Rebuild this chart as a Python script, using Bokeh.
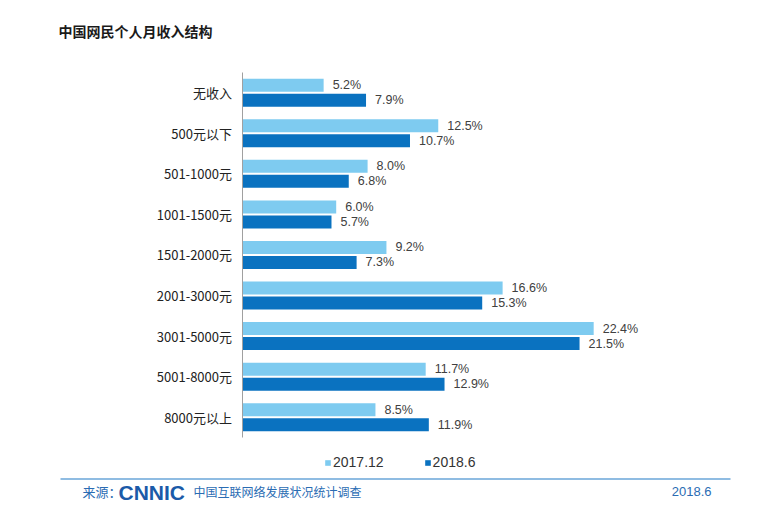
from bokeh.plotting import figure
from bokeh.models import Range1d, FixedTicker, Legend, LegendItem, Label, ColumnDataSource
from bokeh.embed import file_html
from bokeh.resources import INLINE
from bokeh.core.properties import value

# ---- data ----
categories = ["无收入", "500元以下", "501-1000元", "1001-1500元", "1501-2000元",
              "2001-3000元", "3001-5000元", "5001-8000元", "8000元以上"]
values_2017_12 = [5.2, 12.5, 8.0, 6.0, 9.2, 16.6, 22.4, 11.7, 8.5]
values_2018_6 = [7.9, 10.7, 6.8, 5.7, 7.3, 15.3, 21.5, 12.9, 11.9]
series_names = ["2017.12", "2018.6"]
title_text = "中国网民个人月收入结构"

# ---- styles ----
LIGHT = "#7ecbf0"
DARK = "#0a72c0"
CJK = "Noto Sans CJK SC"
LAT = "Liberation Sans"
FOOT = "#2a6cb3"

W, H = 748, 506
PX = 15.7          # px per percent
n = len(categories)
PU = 40.56         # px per category
AX_X = 241.5       # x of axis
CAT_BOT = 437      # y of bottom of category region


def dx(px):
    return (px - AX_X) / PX


def dy(py):
    return (CAT_BOT - py) / PU


ypos = [n - i - 0.5 for i in range(n)]
off = 0.185
bar_h = 13 / PU

src_a = ColumnDataSource(dict(y=[v + off for v in ypos], x=values_2017_12,
                              lab=[f"{v:.1f}%" for v in values_2017_12]))
src_b = ColumnDataSource(dict(y=[v - off for v in ypos], x=values_2018_6,
                              lab=[f"{v:.1f}%" for v in values_2018_6]))

p = figure(width=W, height=H, output_backend="svg", toolbar_location=None,
           x_range=Range1d(dx(0), dx(W)), y_range=Range1d(dy(H), dy(0)),
           min_border=0)
p.outline_line_color = None
p.grid.visible = False
p.xaxis.visible = False

ra = p.hbar(y="y", right="x", left=0, height=bar_h, source=src_a,
            fill_color=LIGHT, line_color=None)
rb = p.hbar(y="y", right="x", left=0, height=bar_h, source=src_b,
            fill_color=DARK, line_color=None)

for s in (src_a, src_b):
    p.text(x="x", y="y", text="lab", source=s, x_offset=9,
           text_align="left", text_baseline="middle",
           text_font=value(LAT), text_font_size="12.5px", text_color="#404040")

yax = p.yaxis[0]
yax.fixed_location = 0
yax.ticker = FixedTicker(ticks=ypos)
yax.bounds = (0, n)
yax.major_label_overrides = {y: c for y, c in zip(ypos, categories)}
yax.major_tick_line_color = None
yax.minor_tick_line_color = None
yax.axis_line_color = "#a0a0a0"
yax.major_label_standoff = 4
yax.major_label_text_font = CJK
yax.major_label_text_font_size = "13px"
yax.major_label_text_color = "#222222"

# title
p.add_layout(Label(x=dx(58), y=dy(30), text=title_text, text_font=CJK,
                   text_font_size="14px", text_font_style="bold", text_color="#1a1a1a",
                   text_baseline="middle", text_align="left"))

legend = Legend(items=[LegendItem(label=series_names[0], renderers=[ra]),
                       LegendItem(label=series_names[1], renderers=[rb])],
                orientation="horizontal", location=(324, H - 470),
                glyph_width=7, glyph_height=7, label_standoff=2, spacing=40,
                padding=0, margin=0, border_line_color=None,
                background_fill_alpha=0, label_text_font=LAT,
                label_text_font_size="14px", label_text_color="#333333")
p.add_layout(legend)

# footer
p.segment(x0=[dx(60)], x1=[dx(730)], y0=[dy(478.5)], y1=[dy(478.5)],
          line_color="#6aa6d8", line_width=1.5)
p.add_layout(Label(x=dx(82), y=dy(491), text="来源：",
                   text_font=CJK, text_font_size="13px", text_color=FOOT,
                   text_baseline="middle"))
p.add_layout(Label(x=dx(118), y=dy(491.5), text="CNNIC",
                   text_font=LAT, text_font_size="21px", text_font_style="bold",
                   text_color="#1b5aa8", text_baseline="middle"))
p.add_layout(Label(x=dx(193), y=dy(491), text="中国互联网络发展状况统计调查",
                   text_font=CJK, text_font_size="12px", text_color=FOOT,
                   text_baseline="middle"))
p.add_layout(Label(x=dx(711), y=dy(491), text="2018.6",
                   text_font=LAT, text_font_size="13px", text_color=FOOT,
                   text_baseline="middle", text_align="right"))

open("out.html", "w").write(file_html(p, INLINE))
